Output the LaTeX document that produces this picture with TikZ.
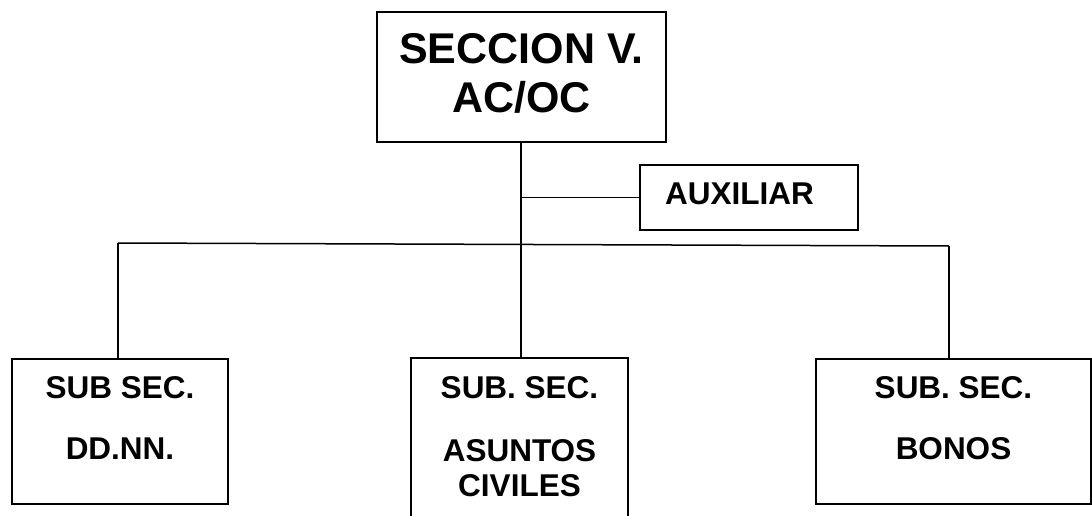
\documentclass[tikz,border=0pt]{standalone}
\usepackage{fontspec}
\setmainfont{Liberation Sans}
\usetikzlibrary{calc}
\tikzset{
	caja/.style={draw=black, line width=2pt, inner sep=0pt},
	rotulo/.style={inner sep=0pt, font=\bfseries\fontsize{31.5}{36}\selectfont},
	titulo/.style={inner sep=0pt, font=\bfseries\fontsize{43}{50}\selectfont},
	linea/.style={line width=1.5pt}
}

\begin{document}
\begin{tikzpicture}[x=1pt, y=-1pt]
		%%%%% START %%%%%
		
		\useasboundingbox (0, 0) rectangle (1092, 516);
		\clip (0, 0) rectangle (1092, 516);
		
		\node[caja, minimum width=289, minimum height=130] (seccion) at (521.5, 77) {};
		\node[titulo] (seccionA) at (521.5, 49) {SECCION V.};
		\node[titulo] (seccionB) at (521.5, 97) {AC/OC};
		
		\node[caja, minimum width=218, minimum height=65] (auxiliar) at (749, 197.5) {};
		\node[rotulo, anchor=west] (auxiliarA) at (665, 194) {AUXILIAR};
		
		\node[caja, minimum width=216, minimum height=145] (ddnn) at (120, 431.5) {};
		\node[rotulo] (ddnnA) at (120, 388) {SUB SEC.};
		\node[rotulo] (ddnnB) at (120, 449) {DD.NN.};
		
		\node[caja, minimum width=217, minimum height=175] (civiles) at (519.5, 445.5) {};
		\node[rotulo] (civilesA) at (519.5, 388) {SUB. SEC.};
		\node[rotulo] (civilesB) at (519.5, 451) {ASUNTOS};
		\node[rotulo] (civilesC) at (519.5, 486) {CIVILES};
		
		\node[caja, minimum width=275, minimum height=145] (bonos) at (953.5, 431.5) {};
		\node[rotulo] (bonosA) at (953.5, 388) {SUB. SEC.};
		\node[rotulo] (bonosB) at (953.5, 449) {BONOS};
		
		% lineas
		\coordinate (izq) at (118, 243);
		\coordinate (der) at (949, 246);
		
		\draw[linea] (seccion.south -| 521, 0) -- (521, 0 |- civiles.north);
		\draw[linea] (auxiliar.west) -- (521, 0 |- auxiliar.west);
		\draw[linea] (izq) -- (der);
		\draw[linea] (izq) -- (izq |- ddnn.north);
		\draw[linea] (der) -- (der |- bonos.north);
		
		%%%%% END %%%%%
\end{tikzpicture}
\end{document}
